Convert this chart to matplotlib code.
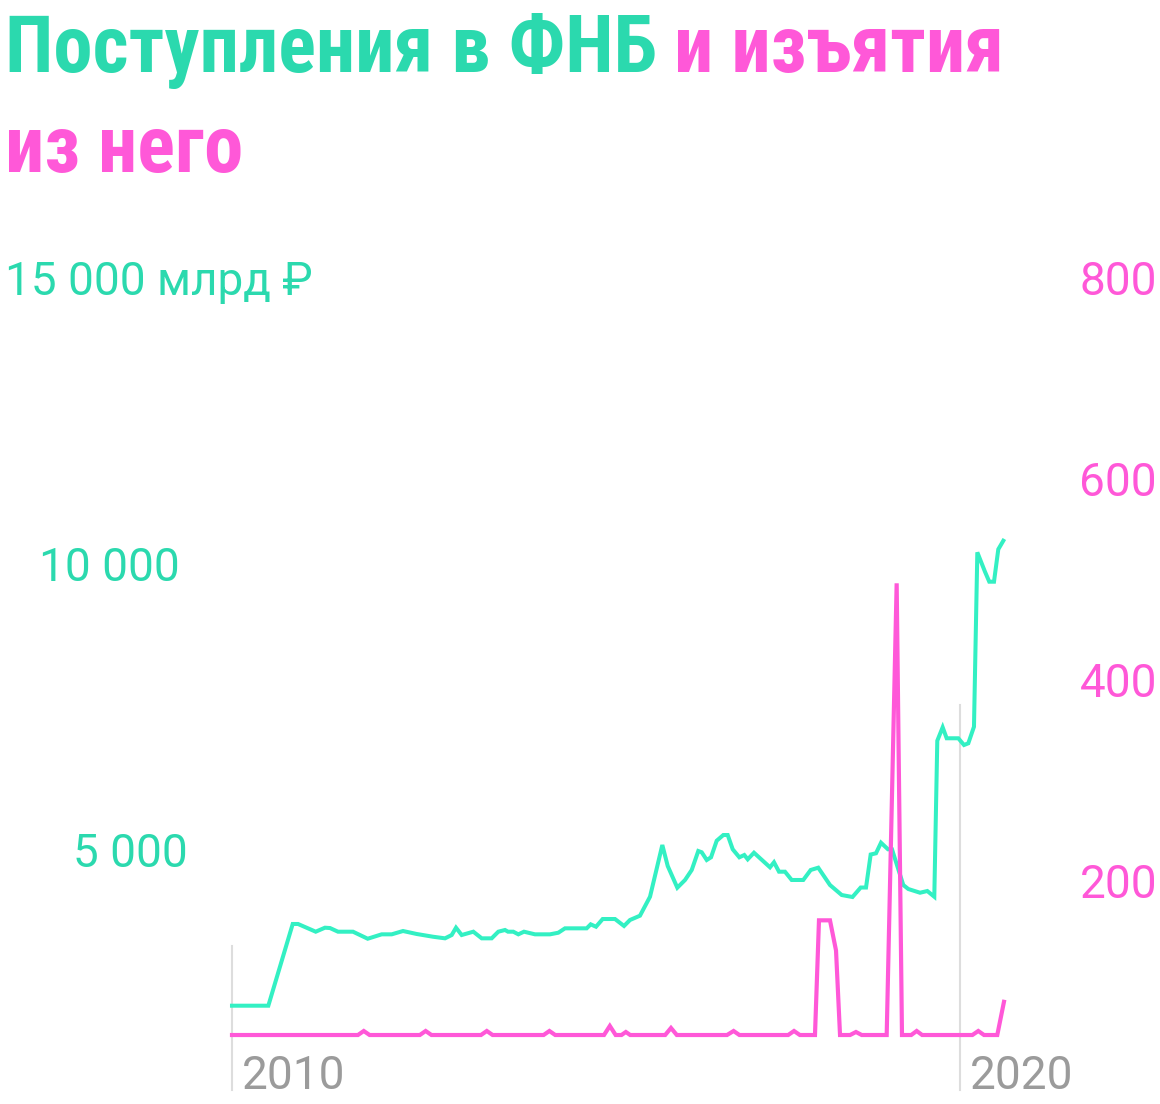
import matplotlib
matplotlib.use("Agg")
import matplotlib.pyplot as plt
import matplotlib.transforms as mtransforms
from matplotlib import font_manager

# ---------------- data ----------------
fnb_years = [2010.000, 2010.499, 2010.834, 2010.907, 2011.150, 2011.277, 2011.346, 2011.456,
             2011.662, 2011.864, 2012.056, 2012.194, 2012.349, 2012.537, 2012.761, 2012.926,
             2013.018, 2013.077, 2013.155, 2013.315, 2013.430, 2013.567, 2013.658, 2013.750,
             2013.791, 2013.864, 2013.933, 2014.011, 2014.162, 2014.368, 2014.482, 2014.574,
             2014.872, 2014.927, 2015.000, 2015.092, 2015.261, 2015.385, 2015.467, 2015.604,
             2015.742, 2015.911, 2015.985, 2016.117, 2016.223, 2016.315, 2016.405, 2016.452,
             2016.521, 2016.580, 2016.658, 2016.749, 2016.809, 2016.878, 2016.969, 2017.037,
             2017.084, 2017.170, 2017.390, 2017.445, 2017.514, 2017.596, 2017.688, 2017.847,
             2017.949, 2018.053, 2018.214, 2018.375, 2018.523, 2018.636, 2018.709, 2018.773,
             2018.846, 2018.915, 2019.011, 2019.066, 2019.221, 2019.290, 2019.451, 2019.551,
             2019.647, 2019.688, 2019.762, 2019.817, 2019.977, 2020.055, 2020.114, 2020.192,
             2020.238, 2020.343, 2020.402, 2020.467, 2020.526, 2020.595]
fnb_values = [2279, 2279, 3709, 3709, 3574, 3644, 3638, 3574,
              3574, 3451, 3528, 3528, 3586, 3534, 3486, 3458,
              3516, 3644, 3516, 3574, 3458, 3458, 3574, 3604,
              3574, 3574, 3528, 3574, 3528, 3528, 3556, 3633,
              3633, 3703, 3661, 3796, 3796, 3674, 3779, 3854,
              4186, 5091, 4724, 4344, 4479, 4654, 4986, 4964,
              4829, 4876, 5166, 5266, 5266, 5016, 4876, 4916,
              4841, 4956, 4701, 4789, 4624, 4624, 4479, 4479,
              4654, 4694, 4391, 4216, 4181, 4347, 4347, 4925,
              4946, 5131, 5016, 5016, 4391, 4321, 4256, 4286,
              4186, 6916, 7151, 6959, 6959, 6841, 6871, 7161,
              10213, 9874, 9699, 9699, 10266, 10416]

withdraw_years = [2010.00, 2011.73, 2011.81, 2011.89, 2012.58, 2012.66, 2012.74,
                  2013.42, 2013.50, 2013.58, 2014.28, 2014.36, 2014.44,
                  2015.11, 2015.19, 2015.27, 2015.35, 2015.41, 2015.47,
                  2015.95, 2016.03, 2016.11, 2016.80, 2016.89, 2016.97,
                  2017.64, 2017.72, 2017.80, 2018.008, 2018.063, 2018.214, 2018.297,
                  2018.352, 2018.49, 2018.571, 2018.65, 2018.993, 2019.13, 2019.203,
                  2019.33, 2019.405, 2019.48, 2020.17, 2020.251, 2020.33, 2020.512, 2020.604]
withdraw_values = [48, 48, 52, 48, 48, 52, 48,
                   48, 52, 48, 48, 52, 48,
                   48, 57, 48, 48, 51, 48,
                   48, 55, 48, 48, 52, 48,
                   48, 52, 48, 48, 162, 162, 132,
                   48, 48, 51, 48, 48, 497, 48,
                   48, 52, 48, 48, 52, 48, 48, 81]

left_ticks = [5000, 10000, 15000]
left_tick_labels = ["5 000", "10 000", "15 000 млрд ₽"]
right_ticks = [200, 400, 600, 800]
right_tick_labels = ["200", "400", "600", "800"]
year_ticks = [2010, 2020]
year_labels = ["2010", "2020"]

title_green = "Поступления в ФНБ"
title_pink_1 = "и изъятия"
title_pink_2 = "из него"

# ---------------- style ----------------
GREEN_LINE = "#33F0C3"
GREEN_TEXT = "#2BD9AE"
PINK = "#FF58D8"
GRAY = "#9B9B9B"
GRID = "#DDDDDD"

W, H = 1160, 1104
fig = plt.figure(figsize=(W / 100, H / 100), dpi=100)
fig.patch.set_facecolor("white")


def fx(px):
    return px / W


def fy(py):
    return 1 - py / H


installed = {f.name for f in font_manager.fontManager.ttflist}
title_family = [f for f in ["Roboto Condensed", "PT Sans Narrow", "Liberation Sans", "DejaVu Sans"]
                if f in installed] or ["DejaVu Sans"]
label_family = [f for f in ["Roboto", "DejaVu Sans"] if f in installed] or ["DejaVu Sans"]

y_top, y_bot = 278.5, 1083.3
ax = fig.add_axes([fx(232), fy(y_bot), 800.8 / W, (y_bot - y_top) / H])
ax2 = ax.twinx()
for a in (ax, ax2):
    a.set_axis_off()
ax.set_xlim(2010, 2021)
ax.set_ylim(921, 15005)
ax2.set_ylim(0, 800)

# vertical year markers
x_tops = {2010: 946, 2020: 705}
for yr in year_ticks:
    ax.axvline(yr, ymin=(y_bot - 1090) / (y_bot - y_top), ymax=(y_bot - x_tops[yr]) / (y_bot - y_top),
               color=GRID, lw=1.5, clip_on=False, zorder=1)

ax.plot(fnb_years, fnb_values, color=GREEN_LINE, lw=2.9, solid_joinstyle="miter", zorder=3,
        clip_on=False)
ax2.plot(withdraw_years, withdraw_values, color=PINK, lw=3.0, solid_joinstyle="miter", zorder=4,
         clip_on=False)

LABEL_SIZE = 33

# left labels
trans_l = mtransforms.blended_transform_factory(fig.transFigure, ax.transData)
left_pos = {5000: (188, "right"), 10000: (180, "right"), 15000: (5, "left")}
for v, lab in zip(left_ticks, left_tick_labels):
    px, ha = left_pos[v]
    ax.annotate(lab, xy=(fx(px), v), xycoords=trans_l, xytext=(0, -11.8), textcoords="offset points",
                ha=ha, va="baseline", fontsize=LABEL_SIZE, color=GREEN_TEXT, family=label_family,
                annotation_clip=False)

# right labels
trans_r = mtransforms.blended_transform_factory(fig.transFigure, ax2.transData)
for v, lab in zip(right_ticks, right_tick_labels):
    ax2.annotate(lab, xy=(fx(1157), v), xycoords=trans_r, xytext=(0, -11.8), textcoords="offset points",
                 ha="right", va="baseline", fontsize=LABEL_SIZE, color=PINK, family=label_family,
                 annotation_clip=False)

# year labels
trans_x = mtransforms.blended_transform_factory(ax.transData, fig.transFigure)
for yr, lab in zip(year_ticks, year_labels):
    ax.annotate(lab, xy=(yr, fy(1089)), xycoords=trans_x, xytext=(7, 0), textcoords="offset points",
                ha="left", va="baseline", fontsize=LABEL_SIZE, color=GRAY, family=label_family,
                annotation_clip=False)

# title: fit first line (green + pink parts) to the reference width
fig.canvas.draw()
renderer = fig.canvas.get_renderer()
size = 46
t1 = fig.text(fx(5), fy(72), title_green, fontsize=size, fontweight="bold", color=GREEN_TEXT,
              family=title_family, ha="left", va="baseline")
t2 = fig.text(fx(686), fy(72), title_pink_1, fontsize=size, fontweight="bold", color=PINK,
              family=title_family, ha="left", va="baseline")
w1 = t1.get_window_extent(renderer).width
w2 = t2.get_window_extent(renderer).width
gap = 18.0
k = (1000.0 - gap) / (w1 + w2)
size *= k
t1.set_fontsize(size)
t2.set_fontsize(size)
w1 = t1.get_window_extent(renderer).width
t2.set_x(fx(5 + w1 + gap))
t3 = fig.text(fx(5), fy(172), title_pink_2, fontsize=size, fontweight="bold", color=PINK,
              family=title_family, ha="left", va="baseline")

fig.savefig("out.png", dpi=100, facecolor="white")
